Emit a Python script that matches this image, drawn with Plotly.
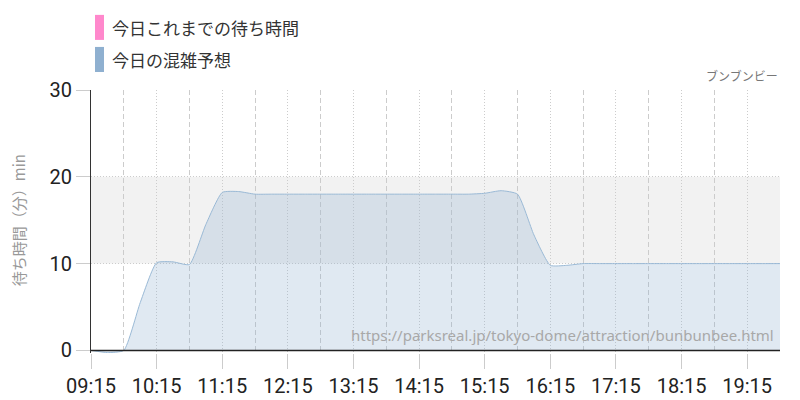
import plotly.graph_objects as go

DAY = "2024-01-01 "
times = ["09:15", "09:30", "09:45", "10:00", "10:15", "10:30", "10:45", "11:00",
         "11:15", "11:30", "11:45", "12:00", "12:15", "12:30", "12:45", "13:00",
         "13:15", "13:30", "13:45", "14:00", "14:15", "14:30", "14:45", "15:00",
         "15:15", "15:30", "15:45", "16:00", "16:15", "16:30", "16:45", "17:00",
         "17:15", "17:30", "17:45", "18:00", "18:15", "18:30", "18:45", "19:00",
         "19:15", "19:30", "19:45"]
forecast = [0, -0.25, 0, 5.5, 10.1, 10.2, 9.9, 14.5,
            18.2, 18.3, 18.0, 18.0, 18.0, 18.0, 18.0, 18.0,
            18.0, 18.0, 18.0, 18.0, 18.0, 18.0, 18.0, 18.0,
            18.1, 18.4, 18.0, 13.3, 9.8, 9.8, 10.0, 10.0,
            10.0, 10.0, 10.0, 10.0, 10.0, 10.0, 10.0, 10.0,
            10.0, 10.0, 10.0]
actual_times = []
actual_values = []
tick_labels = ["09:15", "10:15", "11:15", "12:15", "13:15", "14:15", "15:15",
               "16:15", "17:15", "18:15", "19:15"]
half_hours = ["09:45", "10:45", "11:45", "12:45", "13:45", "14:45", "15:45",
              "16:45", "17:45", "18:45", "19:45"]

x = [DAY + t for t in times]
tickvals = [DAY + t for t in tick_labels]

fig = go.Figure()
fig.add_trace(go.Scatter(
    x=x, y=forecast, mode="lines", name="今日の混雑予想",
    line=dict(color="rgba(150,182,212,0.95)", width=1, shape="spline", smoothing=0.5),
    fill="tozeroy", fillcolor="rgba(143,176,208,0.28)", showlegend=False,
    hoverinfo="skip"))
fig.add_trace(go.Scatter(
    x=[DAY + t for t in actual_times], y=actual_values, mode="lines",
    name="今日これまでの待ち時間", line=dict(color="#ff88cc", width=2),
    showlegend=False))

# page has an 8px body margin: figure is 792x392 and coordinates shifted by 8px
W, H = 792, 392
L, T = 83, 82
PW = 689
PH = 262.6
B = H - T - PH
R = W - L - PW

grid = "#cccccc"
tickfont = dict(family="Roboto, Liberation Sans", size=20, color="#222")
fig.update_layout(
    width=W, height=H,
    margin=dict(l=L, r=R, t=T, b=B, autoexpand=False),
    paper_bgcolor="white", plot_bgcolor="white",
    font=dict(family="Noto Sans CJK JP, Noto Sans", color="#333"),
    xaxis=dict(
        type="date", range=[DAY + "09:15", DAY + "19:45"],
        tickvals=tickvals, ticktext=tick_labels, automargin=False,
        showgrid=True, gridcolor=grid, griddash="1px,2px", gridwidth=1,
        ticks="outside", ticklen=15, tickcolor=grid, tickwidth=1,
        tickfont=tickfont,
        showline=False, zeroline=False,
        minor=dict(tickvals=[DAY + t for t in half_hours],
                   showgrid=True, gridcolor=grid, griddash="5px,3px", gridwidth=1, ticks=""),
    ),
    yaxis=dict(
        range=[-0.3, 30], tickvals=[0, 10, 20, 30], automargin=False,
        showgrid=True, gridcolor=grid, griddash="1px,2px", gridwidth=1,
        ticks="outside", ticklen=14, tickcolor=grid, tickwidth=1,
        tickfont=tickfont,
        showline=True, linecolor="#333", linewidth=1, zeroline=False,
    ),
)

fig.add_shape(type="rect", xref="paper", yref="y", x0=0, x1=1, y0=10, y1=20,
              fillcolor="#f2f2f2", line=dict(width=0), layer="below")
fig.add_shape(type="line", xref="paper", yref="y", x0=0, x1=1, y0=0, y1=0,
              line=dict(color="#222", width=1.5))

# helpers: convert reference-screen pixels to paper coords
def py(ypx):
    return (T + PH + 8 - ypx) / PH
def px(xpx):
    return (xpx - 8 - L) / PW

legend_items = [("今日これまでの待ち時間", "#ff88cc"), ("今日の混雑予想", "#8fb0d0")]
for i, (label, color) in enumerate(legend_items):
    top = 15 + i * 32
    fig.add_shape(type="rect", xref="paper", yref="paper",
                  x0=px(95), x1=px(104), y0=py(top + 25), y1=py(top),
                  fillcolor=color, line=dict(width=0))
    fig.add_annotation(xref="paper", yref="paper", x=px(110), y=py(top + 12.5),
                       text=label, showarrow=False, xanchor="left", yanchor="middle",
                       font=dict(size=17, color="#333", family="Noto Sans CJK JP"))

fig.add_annotation(xref="paper", yref="paper", x=px(18), y=py(220),
                   text="待ち時間（分）min", textangle=-90, showarrow=False,
                   xanchor="center", yanchor="middle",
                   font=dict(size=15, color="#999", family="Noto Sans CJK JP"))
fig.add_annotation(xref="paper", yref="paper", x=1, y=py(76), text="ブンブンビー",
                   showarrow=False, xanchor="right", yanchor="middle",
                   font=dict(size=12, color="#777", family="Noto Sans CJK JP"))
fig.add_annotation(xref="paper", yref="paper", x=px(776), y=py(335),
                   text="https://parksreal.jp/tokyo-dome/attraction/bunbunbee.html",
                   showarrow=False, xanchor="right", yanchor="middle",
                   font=dict(size=15, color="#a8a8a8", family="Noto Sans"))

fig.write_html("out.html")
